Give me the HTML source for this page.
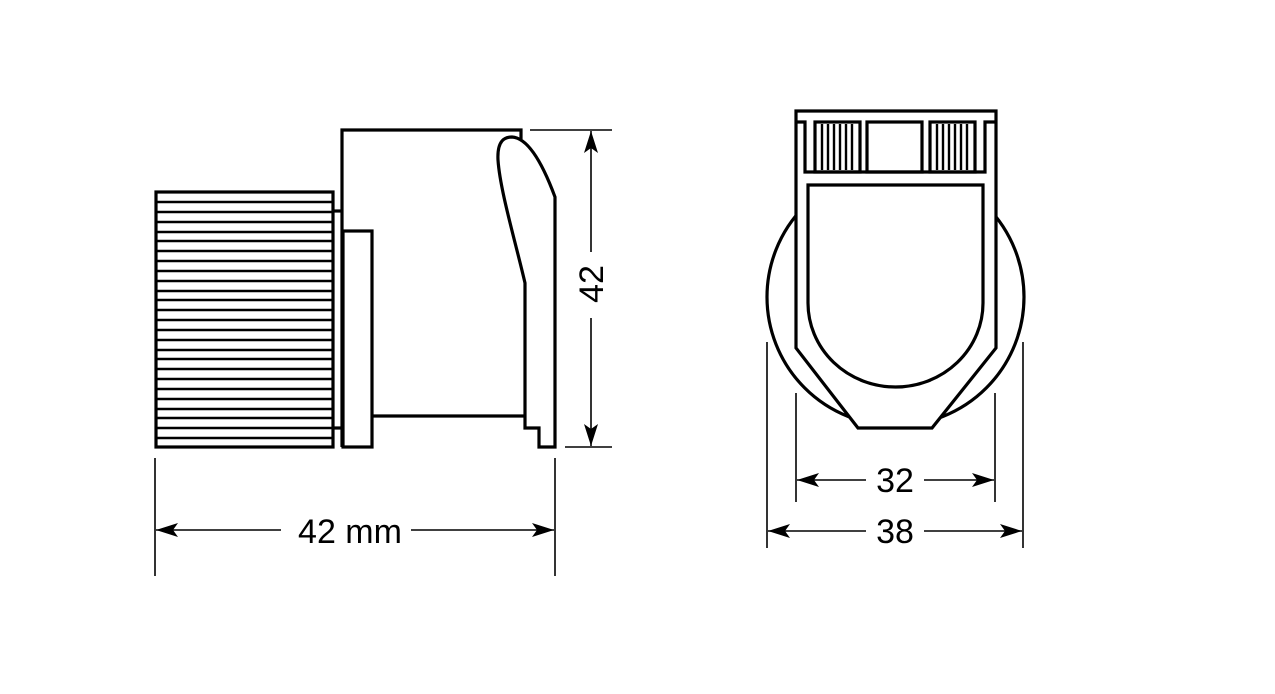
<!DOCTYPE html>
<html><head><meta charset="utf-8"><style>
html,body{margin:0;padding:0;background:#fff;}
svg{display:block;}
text{font-family:"Liberation Sans",sans-serif;fill:#000;}
</style></head><body>
<svg width="1275" height="694" viewBox="0 0 1275 694" xmlns="http://www.w3.org/2000/svg">
<defs>
<marker id="ah" viewBox="0 0 22 14" refX="22" refY="7" markerWidth="22" markerHeight="14" markerUnits="userSpaceOnUse" orient="auto">
<path d="M0,0 L22,7 L0,14 L5,7 Z" fill="#000"/>
</marker>
</defs>
<g fill="none" stroke="#000" stroke-width="3.2">
<rect x="156" y="192" width="177" height="255"/>
<g stroke-width="2.4">
<line x1="157" y1="202" x2="332" y2="202"/><line x1="157" y1="212" x2="332" y2="212"/>
<line x1="157" y1="222" x2="332" y2="222"/><line x1="157" y1="232" x2="332" y2="232"/>
<line x1="157" y1="241" x2="332" y2="241"/><line x1="157" y1="251" x2="332" y2="251"/>
<line x1="157" y1="261" x2="332" y2="261"/><line x1="157" y1="271" x2="332" y2="271"/>
<line x1="157" y1="281" x2="332" y2="281"/><line x1="157" y1="291" x2="332" y2="291"/>
<line x1="157" y1="300" x2="332" y2="300"/><line x1="157" y1="310" x2="332" y2="310"/>
<line x1="157" y1="320" x2="332" y2="320"/><line x1="157" y1="330" x2="332" y2="330"/>
<line x1="157" y1="340" x2="332" y2="340"/><line x1="157" y1="350" x2="332" y2="350"/>
<line x1="157" y1="359" x2="332" y2="359"/><line x1="157" y1="369" x2="332" y2="369"/>
<line x1="157" y1="379" x2="332" y2="379"/><line x1="157" y1="389" x2="332" y2="389"/>
<line x1="157" y1="399" x2="332" y2="399"/><line x1="157" y1="409" x2="332" y2="409"/>
<line x1="157" y1="418" x2="332" y2="418"/><line x1="157" y1="428" x2="332" y2="428"/>
<line x1="157" y1="438" x2="332" y2="438"/>
</g>
<line x1="334" y1="211" x2="342" y2="211"/>
<line x1="334" y1="428" x2="342" y2="428"/>
<path d="M342,447 L342,130 L521,130 L521,139"/>
<rect x="343" y="231" width="29" height="216"/>
<path d="M373,416 L525,416 L525,283 C515,240 500,190 498,160 C497,140 505,137 512,137 C530,138 545,170 555,197 L555,447 L539,447 L539,428 L525,428 L525,416"/>
<g stroke-width="1.6">
<line x1="530" y1="130" x2="612" y2="130"/>
<line x1="565" y1="447" x2="612" y2="447"/>
<line x1="591" y1="252" x2="591" y2="131" marker-end="url(#ah)"/>
<line x1="591" y1="318" x2="591" y2="446" marker-end="url(#ah)"/>
<line x1="155" y1="458" x2="155" y2="576"/>
<line x1="555" y1="458" x2="555" y2="576"/>
<line x1="281" y1="530" x2="156" y2="530" marker-end="url(#ah)"/>
<line x1="411" y1="530" x2="554" y2="530" marker-end="url(#ah)"/>
</g>

<circle cx="895.5" cy="297" r="128.5"/>
<path d="M796,111 L996,111 L996,348 L932,428 L858,428 L796,348 Z" fill="#fff"/>
<path d="M796,122 L805,122 L805,172 L985,172 L985,122 L995,122"/>
<rect x="815" y="122" width="45" height="50"/>
<rect x="867" y="122" width="55" height="50"/>
<rect x="930" y="122" width="45" height="50"/>
<g stroke-width="2.4">
<line x1="822" y1="124" x2="822" y2="170"/><line x1="828" y1="124" x2="828" y2="170"/>
<line x1="834" y1="124" x2="834" y2="170"/><line x1="840" y1="124" x2="840" y2="170"/>
<line x1="846" y1="124" x2="846" y2="170"/><line x1="852" y1="124" x2="852" y2="170"/>
<line x1="937" y1="124" x2="937" y2="170"/><line x1="943" y1="124" x2="943" y2="170"/>
<line x1="949" y1="124" x2="949" y2="170"/><line x1="955" y1="124" x2="955" y2="170"/>
<line x1="961" y1="124" x2="961" y2="170"/><line x1="967" y1="124" x2="967" y2="170"/>
</g>
<path d="M808,185 L983,185 L983,303 A87.5,84 0 0 1 808,303 Z"/>
<g stroke-width="1.6">
<line x1="796" y1="393" x2="796" y2="502"/>
<line x1="995" y1="393" x2="995" y2="502"/>
<line x1="767" y1="342" x2="767" y2="548"/>
<line x1="1023" y1="342" x2="1023" y2="548"/>
<line x1="866" y1="480" x2="797" y2="480" marker-end="url(#ah)"/>
<line x1="924" y1="480" x2="994" y2="480" marker-end="url(#ah)"/>
<line x1="866" y1="531" x2="768" y2="531" marker-end="url(#ah)"/>
<line x1="924" y1="531" x2="1022" y2="531" marker-end="url(#ah)"/>
</g>
</g>
<text x="350" y="543" font-size="34" text-anchor="middle">42 mm</text>
<text x="895" y="492" font-size="34" text-anchor="middle">32</text>
<text x="895" y="543" font-size="34" text-anchor="middle">38</text>
<text x="0" y="0" font-size="34" text-anchor="middle" transform="translate(603,284) rotate(-90)">42</text>
</svg>
</body></html>
